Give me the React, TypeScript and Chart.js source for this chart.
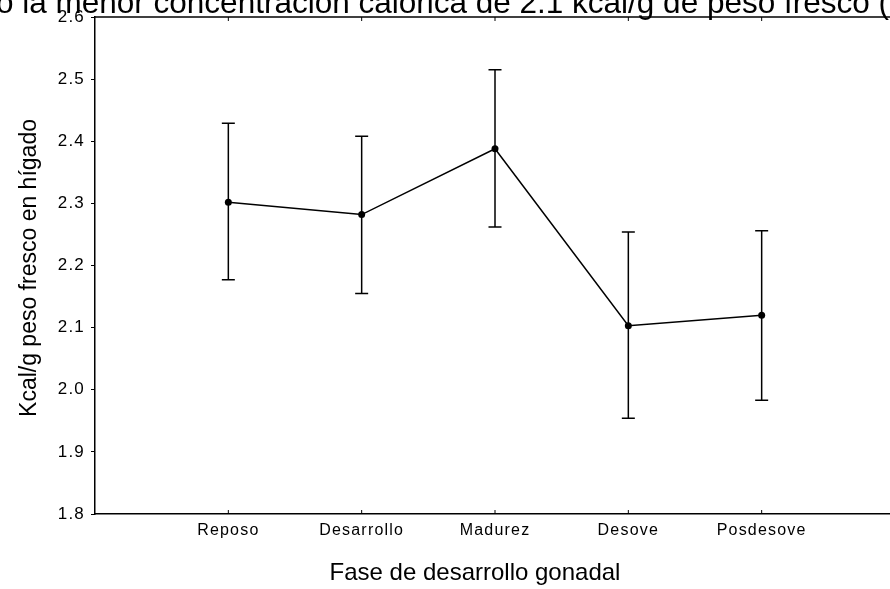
import React, { useEffect, useRef } from 'react';
import { Chart, registerables } from 'chart.js';
Chart.register(...registerables);

const categories = ['Reposo', 'Desarrollo', 'Madurez', 'Desove', 'Posdesove'];
const means = [2.302, 2.282, 2.388, 2.103, 2.12];
const upper = [2.429, 2.408, 2.515, 2.254, 2.256];
const lower = [2.177, 2.155, 2.262, 1.954, 1.983];
const yMin = 1.8;
const yMax = 2.6;
const yStep = 0.1;
const yTitle = 'Kcal/g peso fresco en hígado';
const xTitle = 'Fase de desarrollo gonadal';
const caption = 'o la menor concentración calórica de 2.1 kcal/g de peso fresco (';

const FONT = '"Liberation Sans", Arial, sans-serif';

const decor = {
  id: 'decor',
  beforeDraw(chart: any) {
    (chart.ctx as any).letterSpacing = '1.2px';
  },
  beforeDatasetsDraw(chart: any) {
    const ctx = chart.ctx as any;
    ctx.letterSpacing = '0px';
    const xs = chart.scales.x;
    const ys = chart.scales.y;
    const area = chart.chartArea;
    ctx.save();
    ctx.strokeStyle = '#000';
    ctx.lineWidth = 1.5;
    ctx.beginPath();
    ctx.moveTo(area.left, area.top);
    ctx.lineTo(area.right, area.top);
    ctx.stroke();
    ctx.lineWidth = 1;
    categories.forEach((_, i) => {
      const px = xs.getPixelForValue(i + 1);
      ctx.beginPath();
      ctx.moveTo(px, area.bottom);
      ctx.lineTo(px, area.bottom - 4);
      ctx.moveTo(px, area.top);
      ctx.lineTo(px, area.top + 4);
      ctx.stroke();
    });
    ctx.lineWidth = 1.5;
    categories.forEach((_, i) => {
      const px = xs.getPixelForValue(i + 1);
      const pu = ys.getPixelForValue(upper[i]);
      const pl = ys.getPixelForValue(lower[i]);
      ctx.beginPath();
      ctx.moveTo(px, pu);
      ctx.lineTo(px, pl);
      ctx.moveTo(px - 6.5, pu);
      ctx.lineTo(px + 6.5, pu);
      ctx.moveTo(px - 6.5, pl);
      ctx.lineTo(px + 6.5, pl);
      ctx.stroke();
    });
    ctx.restore();
  },
  afterDraw(chart: any) {
    const ctx = chart.ctx as any;
    ctx.save();
    ctx.letterSpacing = '0px';
    ctx.fillStyle = '#000';
    ctx.font = `31.5px ${FONT}`;
    ctx.textAlign = 'left';
    ctx.textBaseline = 'alphabetic';
    ctx.fillText(caption, -4, 13);
    ctx.font = `24px ${FONT}`;
    ctx.textAlign = 'center';
    ctx.textBaseline = 'middle';
    ctx.fillText(xTitle, 475, 573);
    ctx.translate(30, 268);
    ctx.rotate(-Math.PI / 2);
    ctx.font = `23px ${FONT}`;
    ctx.fillText(yTitle, 0, 0);
    ctx.restore();
  },
};

export default function App() {
  const ref = useRef<HTMLCanvasElement>(null);
  useEffect(() => {
    if (!ref.current) return;
    const chart = new Chart(ref.current, {
      type: 'line',
      data: {
        datasets: [
          {
            data: means.map((m, i) => ({ x: i + 1, y: m })),
            borderColor: '#000',
            borderWidth: 1.5,
            pointRadius: 3.5,
            pointBackgroundColor: '#000',
            pointBorderWidth: 0,
            tension: 0,
          },
        ],
      },
      options: {
        animation: false,
        responsive: true,
        maintainAspectRatio: false,
        layout: { padding: { top: 17, left: 0, right: 0, bottom: 0 } },
        plugins: {
          legend: { display: false },
          title: { display: false },
          tooltip: { enabled: false },
        },
        scales: {
          x: {
            type: 'linear',
            min: 0,
            max: categories.length + 1,
            afterFit: (s: any) => {
              s.height = 75;
            },
            grid: { display: false, drawTicks: false },
            border: { display: true, color: '#000', width: 1.5 },
            ticks: {
              stepSize: 1,
              autoSkip: false,
              maxRotation: 0,
              padding: 7,
              color: '#000',
              font: { family: FONT, size: 16 },
              callback: (v: any) => categories[Number(v) - 1] ?? '',
            },
          },
          y: {
            min: yMin,
            max: yMax,
            afterFit: (s: any) => {
              s.width = 95;
            },
            grid: {
              drawOnChartArea: false,
              drawTicks: true,
              tickLength: 4,
              color: '#000',
            },
            border: { display: true, color: '#000', width: 1.5 },
            ticks: {
              stepSize: yStep,
              padding: 6,
              color: '#000',
              font: { family: FONT, size: 17 },
              callback: (v: any) => Number(v).toFixed(1),
            },
          },
        },
      },
      plugins: [decor],
    });
    return () => chart.destroy();
  }, []);
  return (
    <div
      style={{
        position: 'fixed',
        left: 0,
        top: 0,
        width: 890,
        height: 589,
        overflow: 'hidden',
        background: '#fff',
      }}
    >
      <div style={{ position: 'relative', width: 902, height: 589 }}>
        <canvas ref={ref} />
      </div>
    </div>
  );
}
